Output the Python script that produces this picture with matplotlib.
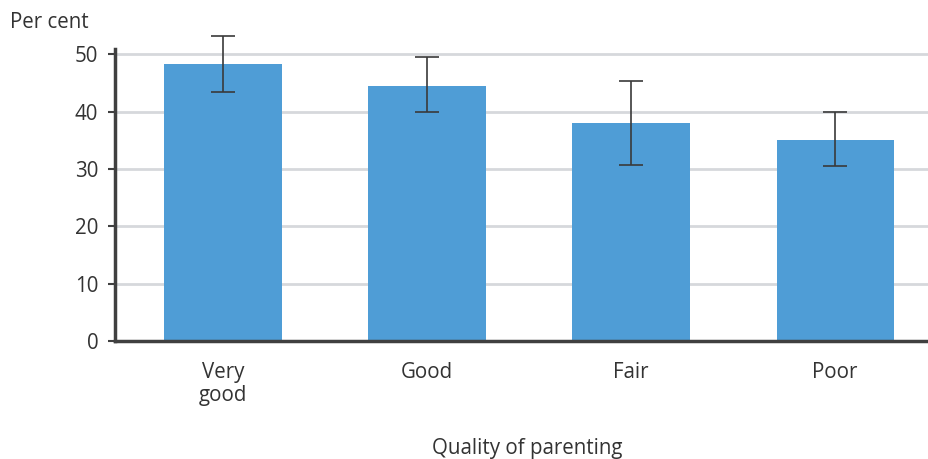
import matplotlib
matplotlib.use('Agg')
from matplotlib import pyplot as plt
import numpy as np

CATEGORIES = ['Very\ngood', 'Good', 'Fair', 'Poor']
VALUES = [48.3, 44.5, 38.0, 35.1]
ERR_LOW = [43.5, 39.9, 30.7, 30.5]
ERR_HIGH = [53.1, 49.5, 45.3, 40.0]
Y_TICKS = [0, 10, 20, 30, 40, 50]

BAR_COLOR = '#4f9dd6'
TEXT_COLOR = '#333333'


def main():
    plt.rcParams['font.family'] = ['Open Sans', 'DejaVu Sans']
    fig = plt.figure(figsize=(9.29, 4.59), dpi=100)
    ax = fig.add_axes([0.1238, 0.2571, 0.8762, 0.636])

    x = np.arange(len(CATEGORIES))
    vals = np.array(VALUES)
    yerr = [vals - np.array(ERR_LOW), np.array(ERR_HIGH) - vals]

    ax.bar(x, vals, width=0.575, color=BAR_COLOR, zorder=2)
    ax.errorbar(x, vals, yerr=yerr, fmt='none', ecolor='#3a3a3a', elinewidth=1.2,
                capsize=8.6, capthick=1.2, zorder=3, clip_on=False)

    ax.set_xlim(-0.53, 3.46)
    ax.set_ylim(0, 50.9)
    ax.set_yticks(Y_TICKS)
    ax.set_xticks(x)
    ax.set_xticklabels(CATEGORIES, linespacing=1.15)
    ax.yaxis.grid(True, color='#d6d8dc', linewidth=2, zorder=0)
    ax.set_axisbelow(True)

    for side in ['top', 'right']:
        ax.spines[side].set_visible(False)
    ax.spines['left'].set_color('#404040')
    ax.spines['left'].set_linewidth(2.5)
    ax.spines['bottom'].set_color('#404040')
    ax.spines['bottom'].set_linewidth(2.5)

    ax.tick_params(axis='y', length=5, width=1.5, color='#404040',
                   labelsize=14.8, labelcolor=TEXT_COLOR, pad=7)
    ax.tick_params(axis='x', length=0, labelsize=14.8, labelcolor=TEXT_COLOR, pad=15)

    fig.text(0.011, 0.952, 'Per cent', fontsize=14.8, color=TEXT_COLOR, va='center', ha='left')
    fig.text(0.568, 0.022, 'Quality of parenting', fontsize=14.8, color=TEXT_COLOR,
             va='center', ha='center')

    fig.savefig('out.png', dpi=100)


if __name__ == '__main__':
    main()
